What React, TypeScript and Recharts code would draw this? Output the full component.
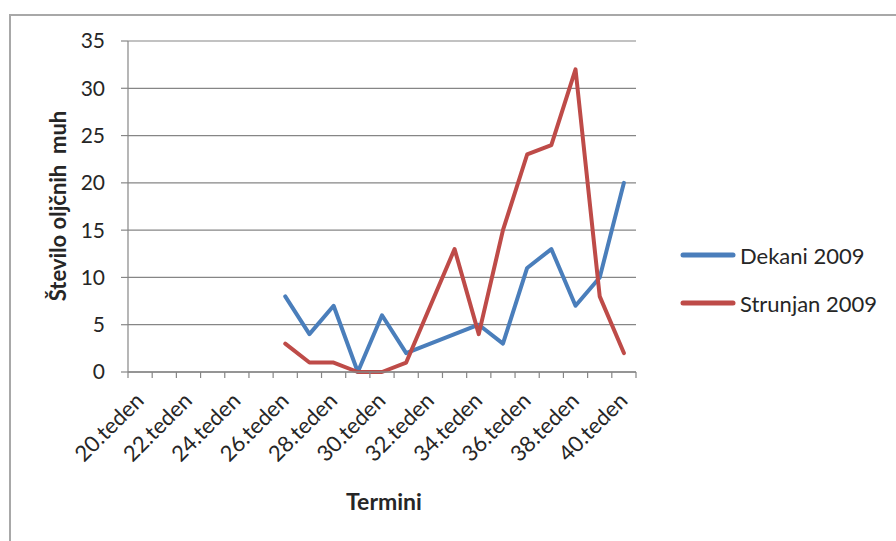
import { LineChart, Line, XAxis, YAxis, CartesianGrid, Legend } from 'recharts';

const weeks = [
    '20.teden', '21.teden', '22.teden', '23.teden', '24.teden', '25.teden', '26.teden',
    '27.teden', '28.teden', '29.teden', '30.teden', '31.teden', '32.teden', '33.teden',
    '34.teden', '35.teden', '36.teden', '37.teden', '38.teden', '39.teden', '40.teden',
];
const dekani = [null, null, null, null, null, null, 8, 4, 7, 0, 6, 2, 3, 4, 5, 3, 11, 13, 7, 10, 20];
const strunjan = [null, null, null, null, null, null, 3, 1, 1, 0, 0, 1, 7, 13, 4, 15, 23, 24, 32, 8, 2];
const yTicks = [0, 5, 10, 15, 20, 25, 30, 35];

const BLUE = '#4a7ebb';
const RED = '#be4b48';
const GRID = '#868686';
const TEXT = '#262626';

const chartData = weeks.map((w, i) => ({ week: w, dekani: dekani[i], strunjan: strunjan[i] }));

const series = [
    { key: 'dekani', name: 'Dekani 2009', color: BLUE },
    { key: 'strunjan', name: 'Strunjan 2009', color: RED },
];

// every category gets a tick mark on its left edge (plus the right edge of the last one),
// labels only on every other week, rotated like the spreadsheet original
function WeekTick({ x, y, payload, index, width }: any) {
    const bw = payload.offset ? payload.offset * 2 : width / weeks.length;
    const isLast = index === weeks.length - 1;
    return (
        <g>
            <line x1={x - bw / 2} y1={y} x2={x - bw / 2} y2={y + 6} stroke={GRID} strokeWidth={1.2} />
            {isLast && <line x1={x + bw / 2} y1={y} x2={x + bw / 2} y2={y + 6} stroke={GRID} strokeWidth={1.2} />}
            {index % 2 === 0 && (
                <g transform={`translate(${x + 5},${y + 30}) rotate(-45)`}>
                    <text textAnchor="end" fill={TEXT} fontSize={22}>
                        {payload.value}
                    </text>
                </g>
            )}
        </g>
    );
}

function LegendBox() {
    return (
        <div>
            {series.map((s) => (
                <div key={s.key} style={{ display: 'flex', alignItems: 'center', height: 48 }}>
                    <svg width={56} height={10}>
                        <line x1={3} y1={5} x2={53} y2={5} stroke={s.color} strokeWidth={5} strokeLinecap="round" />
                    </svg>
                    <span style={{ marginLeft: 4, fontSize: 22, color: TEXT }}>{s.name}</span>
                </div>
            ))}
        </div>
    );
}

export default function App() {
    return (
        <div
            style={{
                position: 'absolute',
                left: 0,
                top: 0,
                width: 896,
                height: 541,
                overflow: 'hidden',
                background: '#fff',
                fontFamily: 'Lato, "Open Sans", sans-serif',
            }}
        >
            <div
                style={{
                    position: 'absolute',
                    left: 9,
                    top: 14,
                    width: 900,
                    height: 540,
                    border: '2px solid #a8a8a8',
                }}
            />
            <LineChart
                width={896}
                height={541}
                data={chartData}
                margin={{ top: 41, right: 260, bottom: 168, left: 0 }}
                style={{ position: 'absolute', left: 0, top: 0 }}
            >
                <CartesianGrid xAxisId="cat" vertical={false} stroke={GRID} strokeWidth={1.2} />
                <XAxis
                    xAxisId="cat"
                    dataKey="week"
                    scale="band"
                    interval={0}
                    height={1}
                    tickSize={0}
                    tickMargin={0}
                    axisLine={{ stroke: GRID, strokeWidth: 1.5 }}
                    tickLine={false}
                    tick={<WeekTick />}
                    label={{
                        content: () => (
                            <text x={384} y={510} textAnchor="middle" fontWeight="bold" fontSize={23} fill={TEXT}>
                                Termini
                            </text>
                        ),
                    }}
                />
                <YAxis
                    width={128}
                    domain={[0, 35]}
                    ticks={yTicks}
                    tickSize={7}
                    tickMargin={16}
                    tick={{ fill: TEXT, fontSize: 21 }}
                    axisLine={{ stroke: GRID, strokeWidth: 1.2 }}
                    tickLine={{ stroke: GRID, strokeWidth: 1.2 }}
                    label={{
                        content: () => (
                            <text
                                x={57}
                                y={206}
                                transform="rotate(-90 57 206)"
                                textAnchor="middle"
                                dominantBaseline="central"
                                fontWeight="bold"
                                fontSize={22}
                                fill={TEXT}
                                style={{ whiteSpace: 'pre' }}
                            >
                                {'Število oljčnih  muh'}
                            </text>
                        ),
                    }}
                />
                <Legend
                    layout="vertical"
                    align="center"
                    verticalAlign="middle"
                    wrapperStyle={{ left: 680, top: 231, width: 216 }}
                    content={<LegendBox />}
                />
                {series.map((s) => (
                    <Line
                        key={s.key}
                        xAxisId="cat"
                        type="linear"
                        dataKey={s.key}
                        name={s.name}
                        stroke={s.color}
                        strokeWidth={4}
                        strokeLinejoin="round"
                        strokeLinecap="round"
                        dot={false}
                        activeDot={false}
                        isAnimationActive={false}
                    />
                ))}
            </LineChart>
        </div>
    );
}
